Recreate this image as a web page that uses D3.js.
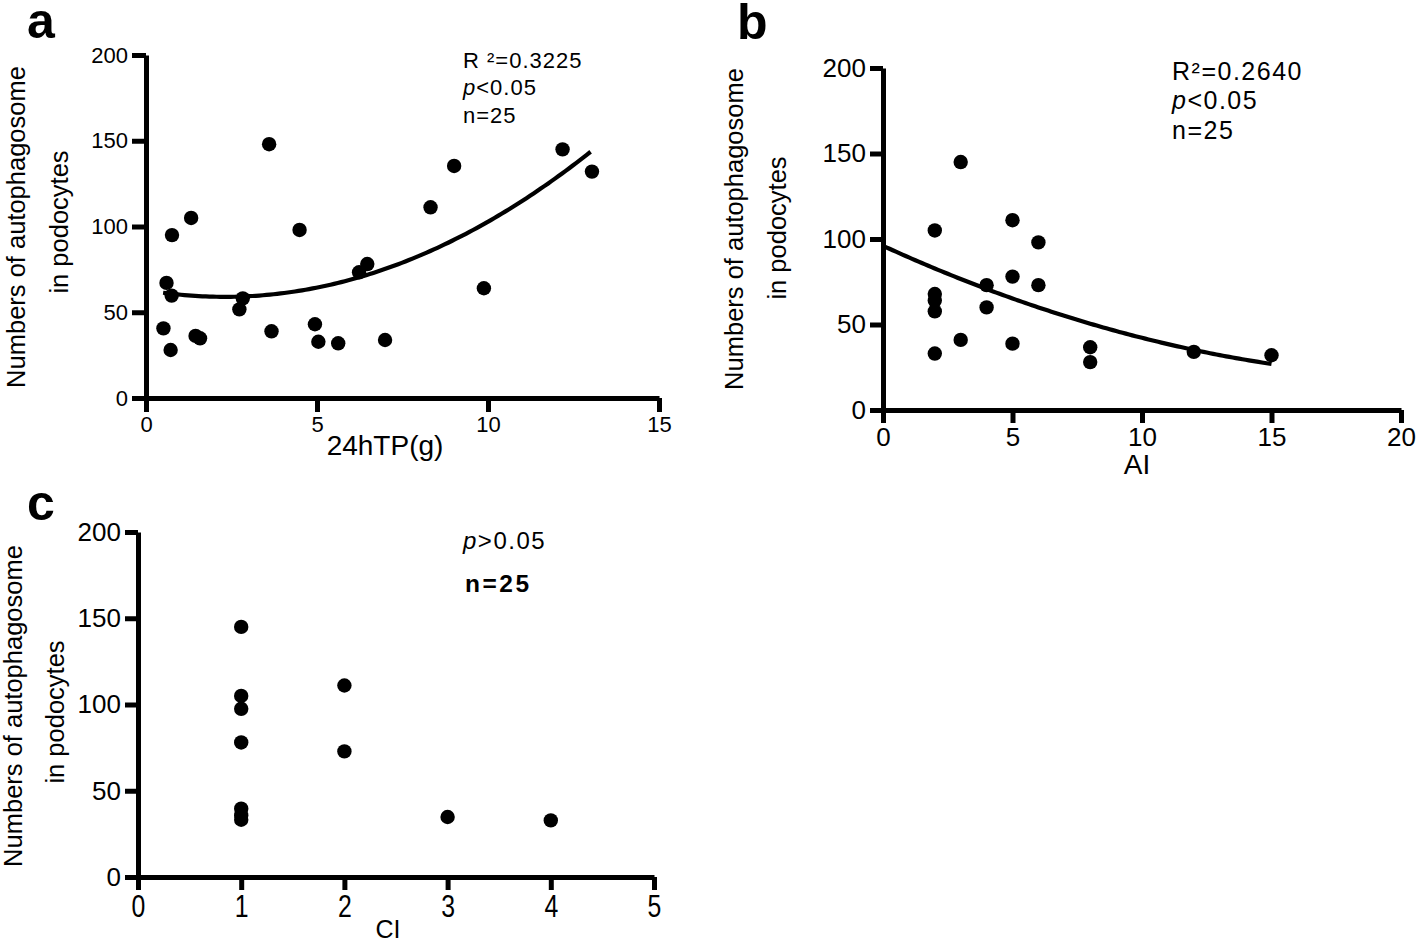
<!DOCTYPE html>
<html><head><meta charset="utf-8">
<script src="https://cdn.jsdelivr.net/npm/d3@7"></script>
<style>
html,body{margin:0;padding:0;background:#fff;}
svg text{font-family:"Liberation Sans",Arial,Helvetica,sans-serif;fill:#000;}
</style></head>
<body>
<svg id="chart" width="1418" height="946"></svg>
<script>
// ---- Data ----
const yTicks = [0, 50, 100, 150, 200];

// Panel a: 24hTP(g) vs autophagosome count
const tpTicks = [0, 5, 10, 15];
const tpX = [0.51,0.60,0.75,0.72,0.76,1.32,1.45,1.58,2.73,2.83,3.60,3.67,4.49,4.94,5.04,5.62,6.23,6.47,6.99,8.32,9.01,9.88,12.18,13.04];
const tpY = [40.6,67.1,59.7,28.0,95.0,105.0,36.2,34.8,51.7,58.1,148.0,38.9,98.0,43.0,32.8,31.9,73.3,78.1,33.8,111.2,135.3,64.0,145.0,132.0];
const tpFit = [62.9, -3.40, 0.739];   // quadratic coefficients c0, c1, c2
const tpFitRange = [0.5, 13.0];
const tpNotes = ["R \u00B2=0.3225", "p<0.05", "n=25"];

// Panel b: AI
const aiTicks = [0, 5, 10, 15, 20];
const aiX = [2,2,2,2,2,3,3,4,4,5,5,5,6,6,8,8,12,15];
const aiY = [105,67.8,64,57.7,33,145,41,73,60,111,78,38.8,98,73,36.7,28,34,32];
const aiFit = [96, -6.93, 0.155];
const aiFitRange = [0, 15];
const aiNotes = ["R\u00B2=0.2640", "p<0.05", "n=25"];

// Panel c: CI
const ciTicks = [0, 1, 2, 3, 4, 5];
const ciX = [1,1,1,1,1,1,1,2,2,3,4];
const ciY = [145,105,97.5,78,39.6,35.7,33.2,111,72.8,34.8,32.8];
const ciNotes = ["p>0.05", "n=25"];

const yTitle = ["Numbers of autophagosome", "in podocytes"];

const svg = d3.select("#chart");

function panel(o) {
  const x = d3.scaleLinear().domain(o.xDomain).range([o.left, o.right]);
  const y = d3.scaleLinear().domain([0, 200]).range([o.bottom, o.top]);
  const g = svg.append("g");

  // axes
  const ya = g.append("g").attr("transform", `translate(${o.left},0)`)
    .call(d3.axisLeft(y).tickValues(yTicks).tickFormat(d3.format("d")).tickSize(o.tick).tickSizeOuter(0).tickPadding(o.ypad));
  const xa = g.append("g").attr("transform", `translate(0,${o.bottom})`)
    .call(d3.axisBottom(x).tickValues(o.xTicks).tickFormat(d3.format("d")).tickSize(o.tick).tickSizeOuter(0).tickPadding(o.xpad));
  [ya, xa].forEach(a => {
    a.select(".domain").attr("stroke", "#000").attr("stroke-width", o.sw);
    a.selectAll(".tick line").attr("stroke", "#000").attr("stroke-width", o.sw);
    a.selectAll(".tick text").attr("font-size", o.tickFont + "px")
      .attr("font-family", "Liberation Sans, Arial, sans-serif").attr("fill", "#000");
  });
  if (o.xTickFont) {
    xa.selectAll(".tick text").attr("font-size", o.xTickFont + "px")
      .attr("transform", `scale(${o.xTickScale},1)`);
  }

  // fit curve
  if (o.fit) {
    const xs = d3.range(o.fitRange[0], o.fitRange[1] + 1e-9, (o.fitRange[1] - o.fitRange[0]) / 120);
    const line = d3.line().x(d => x(d)).y(d => y(o.fit[0] + o.fit[1] * d + o.fit[2] * d * d));
    g.append("path").datum(xs).attr("d", line).attr("fill", "none")
      .attr("stroke", "#000").attr("stroke-width", 4.2);
  }

  // points
  g.selectAll("circle.pt").data(o.xs.map((v, i) => [v, o.ys[i]])).enter()
    .append("circle").attr("class", "pt")
    .attr("cx", d => x(d[0])).attr("cy", d => y(d[1])).attr("r", 7.2).attr("fill", "#000");

  // panel letter
  g.append("text").attr("x", o.letterX).attr("y", o.letterY).attr("font-size", "50px")
    .attr("font-weight", "bold").text(o.letter);

  // y title
  g.append("text").attr("transform", `translate(${o.yt1[0]},${o.yt1[1]}) rotate(-90)`)
    .attr("text-anchor", "middle").attr("font-size", o.titleFont + "px").text(yTitle[0]);
  g.append("text").attr("transform", `translate(${o.yt2[0]},${o.yt2[1]}) rotate(-90)`)
    .attr("text-anchor", "middle").attr("font-size", o.titleFont + "px").text(yTitle[1]);

  // x title
  g.append("text").attr("x", o.xt[0]).attr("y", o.xt[1]).attr("text-anchor", "middle")
    .attr("font-size", o.xtFont + "px").attr("font-family", o.xtFamily || null).text(o.xTitle);

  // notes
  o.notes.forEach((t, i) => {
    const tx = g.append("text").attr("x", o.noteX[i] || o.noteX[0]).attr("y", o.noteY[i])
      .attr("font-size", (o.noteFonts ? o.noteFonts[i] : o.noteFont) + "px")
      .attr("letter-spacing", (o.noteLSs ? o.noteLSs[i] : o.noteLS) + "px")
      .attr("font-family", o.noteFamily || null)
      .attr("font-weight", (o.noteWeights && o.noteWeights[i]) || null);
    if (t.startsWith("p")) {
      tx.append("tspan").attr("font-style", "italic").text("p");
      tx.append("tspan").text(t.slice(1));
    } else tx.text(t);
  });
}

panel({
  letter: "a", letterX: 27, letterY: 38,
  xDomain: [0, 15], left: 146, right: 659, top: 55, bottom: 398,
  xTicks: tpTicks, tick: 14, sw: 5, ypad: 4, xpad: 4, tickFont: 22,
  xs: tpX, ys: tpY, fit: tpFit, fitRange: tpFitRange,
  yt1: [25, 227], yt2: [68, 222], titleFont: 25.5,
  xt: [385, 455], xTitle: "24hTP(g)", xtFont: 28,
  notes: tpNotes, noteX: [463], noteY: [68, 95, 123], noteFont: 22, noteLS: 1
});

panel({
  letter: "b", letterX: 737, letterY: 39,
  xDomain: [0, 20], left: 883, right: 1401, top: 68, bottom: 410,
  xTicks: aiTicks, tick: 13, sw: 5, ypad: 4, xpad: 5, tickFont: 26,
  xs: aiX, ys: aiY, fit: aiFit, fitRange: aiFitRange,
  yt1: [743, 229], yt2: [786, 228], titleFont: 25.5,
  xt: [1137, 474], xTitle: "AI", xtFont: 28,
  notes: aiNotes, noteX: [1172], noteY: [80, 109, 139], noteFont: 25, noteLS: 1.5
});

panel({
  letter: "c", letterX: 27, letterY: 520,
  xDomain: [0, 5], left: 138, right: 654, top: 532, bottom: 877,
  xTicks: ciTicks, tick: 13, sw: 5, ypad: 4, xpad: 5, tickFont: 26,
  xTickFont: 31, xTickScale: 0.8,
  xs: ciX, ys: ciY, fit: null,
  yt1: [22, 706], yt2: [64, 712], titleFont: 25.5,
  xt: [388, 938], xTitle: "CI", xtFont: 25, xtFamily: "Open Sans",
  notes: ciNotes, noteX: [463, 465], noteY: [549, 592], noteFonts: [24, 24.5], noteLSs: [1.5, 2.5],
  noteFamily: "Open Sans", noteWeights: [null, 600]
});
</script>
</body></html>
